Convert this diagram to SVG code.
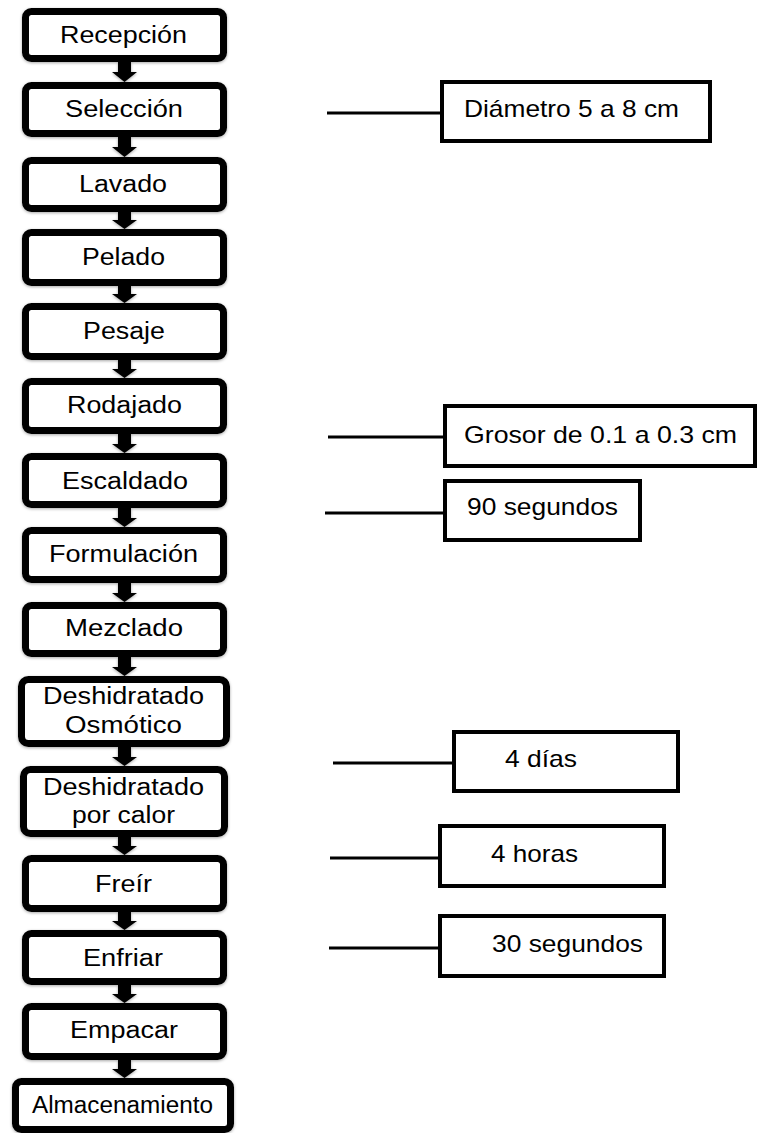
<svg xmlns="http://www.w3.org/2000/svg" width="768" height="1133" viewBox="0 0 768 1133">
  <defs>
    <filter id="soft" x="-10%" y="-10%" width="120%" height="130%">
      <feDropShadow dx="0" dy="1" stdDeviation="1.5" flood-color="#000" flood-opacity="0.35"/>
    </filter>
    <style>
      .step rect { fill: #fff; stroke: #000; stroke-width: 7; filter: url(#soft); }
      .step text { font-family: "Liberation Sans", Arial, sans-serif; font-size: 23px; fill: #000; }
      .note rect { fill: #fff; stroke: #000; stroke-width: 4; }
      .note text { font-family: "Liberation Sans", Arial, sans-serif; font-size: 24px; fill: #000; }
      .flow polygon { fill: #000; filter: url(#soft); }
      .leader line { stroke: #000; stroke-width: 3; }
    </style>
  </defs>
  <rect width="768" height="1133" fill="#fff"/>

  <!-- connectors: block arrows between steps and leader lines to notes -->
  <g id="connectors">
    <g class="flow">
      <polygon points="118,62 131,62 131,72 137,72 124.5,82 112,72 118,72"/>
      <polygon points="118,137 131,137 131,147 137,147 124.5,157 112,147 118,147"/>
      <polygon points="118,212 131,212 131,220 137,220 124.5,229 112,220 118,220"/>
      <polygon points="118,286 131,286 131,294 137,294 124.5,303 112,294 118,294"/>
      <polygon points="118,360 131,360 131,369 137,369 124.5,378 112,369 118,369"/>
      <polygon points="118,434 131,434 131,444 137,444 124.5,453 112,444 118,444"/>
      <polygon points="118,508 131,508 131,518 137,518 124.5,527 112,518 118,518"/>
      <polygon points="118,583 131,583 131,593 137,593 124.5,602 112,593 118,593"/>
      <polygon points="118,657 131,657 131,667 137,667 124.5,676 112,667 118,667"/>
      <polygon points="118,747 131,747 131,757 137,757 124.5,766 112,757 118,757"/>
      <polygon points="118,837 131,837 131,846 137,846 124.5,855 112,846 118,846"/>
      <polygon points="118,912 131,912 131,921 137,921 124.5,930 112,921 118,921"/>
      <polygon points="118,985 131,985 131,994 137,994 124.5,1003 112,994 118,994"/>
      <polygon points="118,1060 131,1060 131,1069 137,1069 124.5,1078 112,1069 118,1069"/>
    </g>
    <g class="leader">
      <line x1="327" y1="113" x2="441" y2="113"/>
      <line x1="328" y1="437" x2="444" y2="437"/>
      <line x1="325" y1="513" x2="444" y2="513"/>
      <line x1="333" y1="763" x2="453" y2="763"/>
      <line x1="330" y1="858" x2="439" y2="858"/>
      <line x1="329" y1="948" x2="439" y2="948"/>
    </g>
  </g>

  <!-- process steps -->
  <g id="recepcion" class="step">
    <rect x="25.5" y="11.5" width="198" height="47" rx="6"/>
    <text x="60" y="43" textLength="127" lengthAdjust="spacingAndGlyphs">Recepción</text>
  </g>
  <g id="seleccion" class="step">
    <rect x="25.5" y="85.5" width="198" height="48" rx="6"/>
    <text x="65" y="117" textLength="118" lengthAdjust="spacingAndGlyphs">Selección</text>
  </g>
  <g id="lavado" class="step">
    <rect x="25.5" y="160.5" width="198" height="48" rx="6"/>
    <text x="79" y="192" textLength="88" lengthAdjust="spacingAndGlyphs">Lavado</text>
  </g>
  <g id="pelado" class="step">
    <rect x="25.5" y="232.5" width="198" height="50" rx="6"/>
    <text x="82" y="265" textLength="83" lengthAdjust="spacingAndGlyphs">Pelado</text>
  </g>
  <g id="pesaje" class="step">
    <rect x="25.5" y="306.5" width="198" height="50" rx="6"/>
    <text x="83" y="339" textLength="82" lengthAdjust="spacingAndGlyphs">Pesaje</text>
  </g>
  <g id="rodajado" class="step">
    <rect x="25.5" y="381.5" width="198" height="49" rx="6"/>
    <text x="67" y="413" textLength="115" lengthAdjust="spacingAndGlyphs">Rodajado</text>
  </g>
  <g id="escaldado" class="step">
    <rect x="25.5" y="456.5" width="198" height="48" rx="6"/>
    <text x="62" y="489" textLength="126" lengthAdjust="spacingAndGlyphs">Escaldado</text>
  </g>
  <g id="formulacion" class="step">
    <rect x="25.5" y="530.5" width="198" height="49" rx="6"/>
    <text x="49" y="562" textLength="149" lengthAdjust="spacingAndGlyphs">Formulación</text>
  </g>
  <g id="mezclado" class="step">
    <rect x="25.5" y="605.5" width="198" height="48" rx="6"/>
    <text x="65" y="636" textLength="118" lengthAdjust="spacingAndGlyphs">Mezclado</text>
  </g>
  <g id="deshidratado-osmotico" class="step">
    <rect x="21.5" y="679.5" width="205" height="64" rx="7"/>
    <text x="43" y="704" textLength="161" lengthAdjust="spacingAndGlyphs">Deshidratado</text>
    <text x="65" y="733" textLength="117" lengthAdjust="spacingAndGlyphs">Osmótico</text>
  </g>
  <g id="deshidratado-calor" class="step">
    <rect x="23.5" y="769.5" width="201" height="64" rx="7"/>
    <text x="43" y="795" textLength="161" lengthAdjust="spacingAndGlyphs">Deshidratado</text>
    <text x="72" y="823" textLength="103" lengthAdjust="spacingAndGlyphs">por calor</text>
  </g>
  <g id="freir" class="step">
    <rect x="25.5" y="858.5" width="198" height="50" rx="6"/>
    <text x="95" y="892" textLength="57" lengthAdjust="spacingAndGlyphs">Freír</text>
  </g>
  <g id="enfriar" class="step">
    <rect x="25.5" y="933.5" width="198" height="48" rx="6"/>
    <text x="83" y="966" textLength="80" lengthAdjust="spacingAndGlyphs">Enfriar</text>
  </g>
  <g id="empacar" class="step">
    <rect x="25.5" y="1006.5" width="198" height="50" rx="6"/>
    <text x="70" y="1038" textLength="108" lengthAdjust="spacingAndGlyphs">Empacar</text>
  </g>
  <g id="almacenamiento" class="step">
    <rect x="15.5" y="1081.5" width="215" height="48" rx="6"/>
    <text x="32" y="1113" textLength="181" lengthAdjust="spacingAndGlyphs">Almacenamiento</text>
  </g>

  <!-- side notes with process parameters -->
  <g id="nota-diametro" class="note">
    <rect x="442" y="82" width="268" height="59"/>
    <text x="464" y="117" textLength="215" lengthAdjust="spacingAndGlyphs">Diámetro 5 a 8 cm</text>
  </g>
  <g id="nota-grosor" class="note">
    <rect x="445" y="406" width="310" height="60"/>
    <text x="464" y="443" textLength="273" lengthAdjust="spacingAndGlyphs">Grosor de 0.1 a 0.3 cm</text>
  </g>
  <g id="nota-escaldado" class="note">
    <rect x="445" y="481" width="195" height="59"/>
    <text x="467" y="515" textLength="151" lengthAdjust="spacingAndGlyphs">90 segundos</text>
  </g>
  <g id="nota-osmotico" class="note">
    <rect x="454" y="732" width="224" height="59"/>
    <text x="505" y="767" textLength="72" lengthAdjust="spacingAndGlyphs">4 días</text>
  </g>
  <g id="nota-calor" class="note">
    <rect x="440" y="826" width="224" height="60"/>
    <text x="491" y="862" textLength="87" lengthAdjust="spacingAndGlyphs">4 horas</text>
  </g>
  <g id="nota-freir" class="note">
    <rect x="440" y="916" width="224" height="60"/>
    <text x="492" y="952" textLength="151" lengthAdjust="spacingAndGlyphs">30 segundos</text>
  </g>
</svg>
